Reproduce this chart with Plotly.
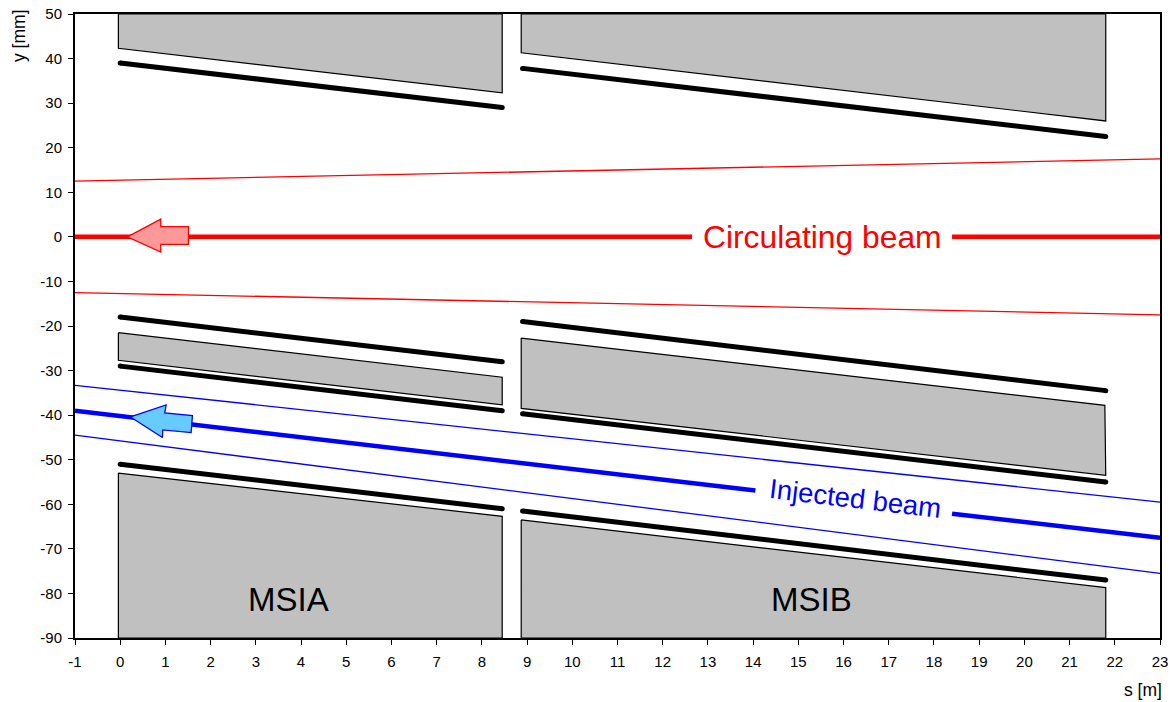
import plotly.graph_objects as go

FONT = "Liberation Sans, Arial, sans-serif"

# Magnet yokes (s [m], y [mm])
msia_top_s = [-0.04, -0.04, 8.45, 8.45, -0.04]
msia_top_y = [50, 42.3, 32.3, 50, 50]
msib_top_s = [8.87, 8.87, 21.8, 21.8, 8.87]
msib_top_y = [50, 41.3, 26, 50, 50]
msia_mid_s = [-0.04, 8.45, 8.45, -0.04, -0.04]
msia_mid_y = [-21.5, -31.5, -37.7, -27.7, -21.5]
msib_mid_s = [8.87, 21.78, 21.8, 8.87, 8.87]
msib_mid_y = [-22.7, -37.8, -53.5, -38.5, -22.7]
msia_low_s = [-0.04, 8.45, 8.45, -0.04, -0.04]
msia_low_y = [-53, -62.7, -90, -90, -53]
msib_low_s = [8.87, 21.8, 21.8, 8.87, 8.87]
msib_low_y = [-63.5, -78.7, -90, -90, -63.5]
yokes = [(msia_top_s, msia_top_y), (msib_top_s, msib_top_y), (msia_mid_s, msia_mid_y),
         (msib_mid_s, msib_mid_y), (msia_low_s, msia_low_y), (msib_low_s, msib_low_y)]

# Septum blades
blade_a_s = [0, 8.45]
blade_b_s = [8.9, 21.8]
blades = [
    (blade_a_s, [39, 29]), (blade_b_s, [37.8, 22.5]),
    (blade_a_s, [-18, -28]), (blade_b_s, [-19, -34.5]),
    (blade_a_s, [-29, -39]), (blade_b_s, [-39.7, -55]),
    (blade_a_s, [-51, -61]), (blade_b_s, [-61.5, -77]),
]

# Beams
env_s = [-1, 23]
circ_upper = [12.5, 17.5]
circ_lower = [-12.5, -17.5]
circ_left_s, circ_left_y = [-1, 12.65], [0, 0]
circ_right_s, circ_right_y = [18.4, 23], [0, 0]
inj_upper = [-33.3, -59.5]
inj_lower = [-44.5, -75.5]
inj_left_s, inj_left_y = [-1, 14.05], [-39, -56.9]
inj_right_s, inj_right_y = [18.4, 23], [-62.1, -67.5]

# Direction arrows
red_arrow_s = [0.16, 0.897, 0.897, 1.51, 1.51, 0.897, 0.897, 0.16]
red_arrow_y = [0, 3.97, 2.3, 2.3, -1.7, -1.7, -3.4, 0]
blue_arrow_s = [0.227, 1.016, 0.985, 1.597, 1.569, 0.941, 0.934, 0.227]
blue_arrow_y = [-40.4, -37.7, -39.5, -40.1, -43.9, -43.3, -45, -40.4]

# Axis ticks
s_ticks = list(range(-1, 24))
y_ticks = list(range(-90, 51, 10))

fig = go.Figure()

for sv, yv in yokes:
    fig.add_trace(go.Scatter(x=sv, y=yv, mode="lines", fill="toself", fillcolor="#c0c0c0",
                             line=dict(color="black", width=1.2)))
for sv, yv in blades:
    fig.add_trace(go.Scatter(x=sv, y=yv, mode="lines+markers", line=dict(color="black", width=5),
                             marker=dict(color="black", size=5)))
for yv in (circ_upper, circ_lower):
    fig.add_trace(go.Scatter(x=env_s, y=yv, mode="lines", line=dict(color="#ff0000", width=1.3)))
for yv in (inj_upper, inj_lower):
    fig.add_trace(go.Scatter(x=env_s, y=yv, mode="lines", line=dict(color="#0000ff", width=1.3)))
for sv, yv in ((circ_left_s, circ_left_y), (circ_right_s, circ_right_y)):
    fig.add_trace(go.Scatter(x=sv, y=yv, mode="lines", line=dict(color="#ff0000", width=4.5)))
for sv, yv in ((inj_left_s, inj_left_y), (inj_right_s, inj_right_y)):
    fig.add_trace(go.Scatter(x=sv, y=yv, mode="lines", line=dict(color="#0000ff", width=4.5)))
fig.add_trace(go.Scatter(x=red_arrow_s, y=red_arrow_y, mode="lines", fill="toself",
                         fillcolor="#ff9999", line=dict(color="#ff0000", width=1.3)))
fig.add_trace(go.Scatter(x=blue_arrow_s, y=blue_arrow_y, mode="lines", fill="toself",
                         fillcolor="#66ccff", line=dict(color="#0000ff", width=1.3)))

notes = [
    dict(x=15.54, y=0, text="Circulating beam", font=dict(size=31.8, color="#ff0000", family=FONT)),
    dict(x=16.26, y=-58.7, text="Injected beam", textangle=6.7, font=dict(size=27.5, color="#0000ff", family=FONT)),
    dict(x=3.72, y=-81.4, text="MSIA", font=dict(size=33, color="black", family=FONT)),
    dict(x=15.29, y=-81.4, text="MSIB", font=dict(size=33, color="black", family=FONT)),
]
for n in notes:
    fig.add_annotation(showarrow=False, xref="x", yref="y", **n)
# Axis captions sit outside the frame: anchored on the axis corners, then nudged in pixels
fig.add_annotation(text="y [mm]", showarrow=False, xref="x", yref="y", x=-1, y=50,
                   xshift=-56, yshift=-22, textangle=-90, font=dict(size=17.5, color="black", family=FONT))
fig.add_annotation(text="s [m]", showarrow=False, xref="x", yref="y", x=22.63, y=-90,
                   yshift=-52, font=dict(size=17.5, color="black", family=FONT))

axis_common = dict(showgrid=False, zeroline=False, showline=True, mirror=True, linecolor="black",
                   linewidth=2, ticks="outside", ticklen=5, tickwidth=1, tickcolor="black", automargin=False,
                   tickfont=dict(size=15, color="black", family=FONT))
fig.update_xaxes(range=[-1, 23], tickvals=s_ticks, ticktext=[str(v) for v in s_ticks], tickangle=0,
                 ticklabelstandoff=4, **axis_common)
fig.update_yaxes(range=[-90, 50], tickvals=y_ticks, ticktext=[str(v) for v in y_ticks],
                 ticklabelstandoff=3, **axis_common)
fig.update_layout(width=1176, height=702, showlegend=False, plot_bgcolor="white", paper_bgcolor="white",
                  margin=dict(l=74.5, r=16, t=14, b=63.5), font=dict(family=FONT))

fig.write_html("out.html", post_script="document.body.style.margin='0';", config=dict(displayModeBar=False))
